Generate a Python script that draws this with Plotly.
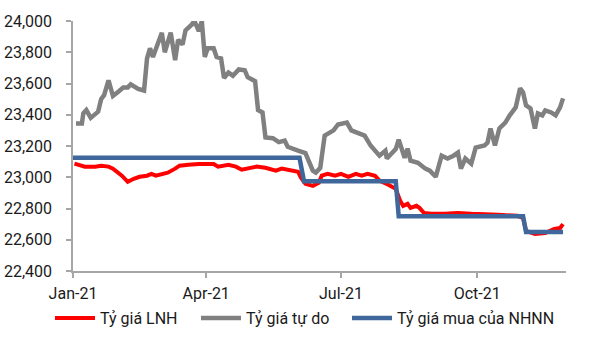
import plotly.graph_objects as go

# Tỷ giá LNH (interbank)
lnh_dates = ["2021-01-02","2021-01-06","2021-01-09","2021-01-16","2021-01-20","2021-01-25","2021-01-28",
             "2021-02-03","2021-02-07","2021-02-11","2021-02-15","2021-02-20","2021-02-23","2021-02-26",
             "2021-03-02","2021-03-06","2021-03-11","2021-03-14","2021-03-20","2021-03-25","2021-03-27",
             "2021-04-06","2021-04-09","2021-04-16","2021-04-21","2021-04-25","2021-04-29","2021-05-05",
             "2021-05-11","2021-05-18","2021-05-22","2021-05-28","2021-06-02","2021-06-04","2021-06-07",
             "2021-06-12","2021-06-16","2021-06-18","2021-06-22","2021-06-27","2021-07-01","2021-07-06",
             "2021-07-11","2021-07-15","2021-07-19","2021-07-24","2021-07-27","2021-08-02","2021-08-07",
             "2021-08-10","2021-08-12","2021-08-15","2021-08-17","2021-08-21","2021-08-23","2021-08-26",
             "2021-08-31","2021-09-09","2021-09-18","2021-09-27","2021-10-06","2021-10-15","2021-10-28",
             "2021-11-01","2021-11-03","2021-11-09","2021-11-16","2021-11-22","2021-11-26","2021-11-28"]
lnh_values = [23087,23074,23068,23068,23074,23068,23055,
              23010,22971,22990,23003,23010,23022,23010,
              23022,23029,23055,23074,23080,23087,23085,
              23085,23068,23080,23068,23048,23055,23068,
              23061,23042,23055,23042,23035,22997,22958,
              22945,22965,23010,23022,23010,23022,23003,
              23022,23010,23022,23010,22978,22952,22926,
              22849,22817,22830,22804,22817,22804,22772,
              22766,22766,22772,22766,22760,22760,22753,
              22740,22656,22637,22643,22669,22675,22700]

# Tỷ giá tự do (free market)
td_dates = ["2021-01-03","2021-01-07","2021-01-08","2021-01-10","2021-01-13","2021-01-18","2021-01-20",
            "2021-01-22","2021-01-25","2021-01-28","2021-02-01","2021-02-04","2021-02-07","2021-02-09",
            "2021-02-14","2021-02-18","2021-02-20","2021-02-22","2021-02-24","2021-02-28","2021-03-02",
            "2021-03-04","2021-03-06","2021-03-08","2021-03-11","2021-03-13","2021-03-16","2021-03-18",
            "2021-03-22","2021-03-24","2021-03-27","2021-03-29","2021-03-31","2021-04-02","2021-04-06",
            "2021-04-08","2021-04-11","2021-04-13","2021-04-16","2021-04-19","2021-04-23","2021-04-27",
            "2021-04-29","2021-05-04","2021-05-06","2021-05-09","2021-05-11","2021-05-16","2021-05-20",
            "2021-05-24","2021-05-26","2021-05-31","2021-06-02","2021-06-07","2021-06-12","2021-06-14",
            "2021-06-17","2021-06-20","2021-06-22","2021-06-26","2021-06-29","2021-07-05","2021-07-08",
            "2021-07-13","2021-07-17","2021-07-21","2021-07-27","2021-07-31","2021-08-01","2021-08-04",
            "2021-08-07","2021-08-09","2021-08-11","2021-08-13","2021-08-15","2021-08-17","2021-08-22",
            "2021-08-27","2021-08-30","2021-09-03","2021-09-07","2021-09-11","2021-09-15","2021-09-18",
            "2021-09-20","2021-09-23","2021-09-27","2021-09-30","2021-10-06","2021-10-08","2021-10-10",
            "2021-10-13","2021-10-16","2021-10-20","2021-10-23","2021-10-27","2021-10-30","2021-11-01",
            "2021-11-03","2021-11-06","2021-11-09","2021-11-11","2021-11-14","2021-11-16","2021-11-20",
            "2021-11-23","2021-11-26","2021-11-28"]
td_values = [23344,23344,23410,23430,23380,23420,23500,
             23525,23620,23520,23550,23575,23575,23595,
             23565,23555,23760,23825,23770,23865,23925,
             23800,23860,23925,23750,23880,23850,23940,
             23975,24000,23935,24000,23770,23825,23825,
             23770,23760,23635,23670,23650,23690,23685,
             23640,23615,23430,23415,23255,23250,23225,
             23235,23195,23175,23170,23155,23042,23030,
             23060,23267,23280,23300,23338,23350,23300,
             23285,23267,23203,23138,23170,23120,23150,
             23180,23241,23190,23125,23183,23106,23093,
             23055,23042,23003,23138,23120,23138,23158,
             23055,23120,23087,23190,23203,23222,23312,
             23203,23312,23350,23396,23447,23569,23543,
             23460,23441,23312,23408,23396,23428,23415,
             23396,23447,23505]

# Tỷ giá mua của NHNN (SBV buying rate)
nhnn_dates = ["2021-01-01","2021-06-03","2021-06-06","2021-08-07","2021-08-09","2021-11-01","2021-11-03","2021-11-28"]
nhnn_values = [23125,23125,22975,22975,22750,22750,22650,22650]

# Axis ticks
x_tickvals = ["2021-01-01","2021-04-01","2021-07-01","2021-10-01"]
x_ticktext = ["Jan-21","Apr-21","Jul-21","Oct-21"]
y_tickvals = [22400,22600,22800,23000,23200,23400,23600,23800,24000]

FONT = "Roboto"
TXT = "#1a1a1a"
FS = 16

fig = go.Figure()
fig.add_trace(go.Scatter(x=lnh_dates, y=lnh_values, mode="lines", name="Tỷ giá LNH",
                         line=dict(color="#FF0000", width=4), legend="legend"))
fig.add_trace(go.Scatter(x=td_dates, y=td_values, mode="lines", name="Tỷ giá tự do",
                         line=dict(color="#808080", width=4.5), legend="legend2"))
fig.add_trace(go.Scatter(x=nhnn_dates, y=nhnn_values, mode="lines", name="Tỷ giá mua của NHNN",
                         line=dict(color="#3F679B", width=4.5), legend="legend3"))

def leg(xpx):
    return dict(orientation="h", xref="container", yref="container",
                x=xpx / 591, xanchor="left", y=1 - 318 / 337, yanchor="middle",
                font=dict(family=FONT, size=FS, color=TXT), itemwidth=40,
                bgcolor="rgba(0,0,0,0)")

fig.update_layout(
    width=591, height=337,
    margin=dict(l=73, r=25, t=21, b=66, autoexpand=False),
    paper_bgcolor="white", plot_bgcolor="white",
    font=dict(family=FONT, size=FS, color=TXT),
    showlegend=True,
    legend=leg(50), legend2=leg(196), legend3=leg(347),
)
fig.update_xaxes(type="date", range=["2021-01-01", "2021-11-30"],
                 tickvals=x_tickvals, ticktext=x_ticktext,
                 showgrid=False, zeroline=False,
                 showline=True, linecolor="#A6A6A6", linewidth=1.5,
                 ticks="outside", ticklen=5, tickcolor="#A6A6A6", tickwidth=1.5,
                 ticklabelstandoff=2)
fig.update_yaxes(range=[22400, 24000], tickvals=y_tickvals, tickformat=",",
                 showgrid=False, zeroline=False,
                 showline=True, linecolor="#A6A6A6", linewidth=1.5,
                 ticks="outside", ticklen=5, tickcolor="#A6A6A6", tickwidth=1.5,
                 ticklabelstandoff=11)

fig.write_html("out.html")
